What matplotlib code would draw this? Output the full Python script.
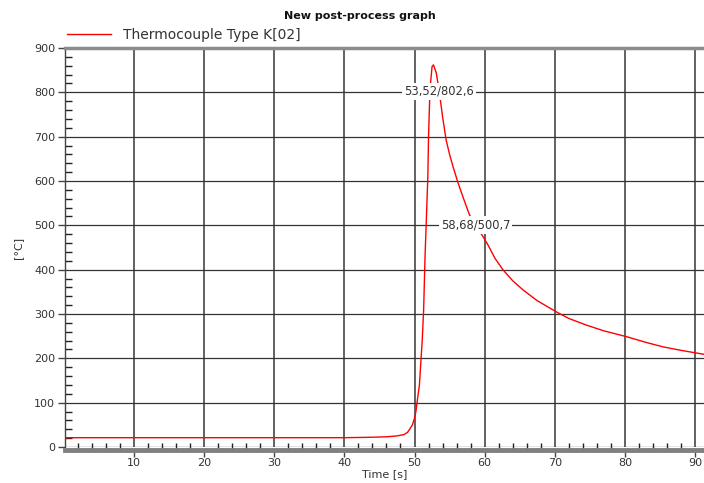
import matplotlib.pyplot as plt
from matplotlib.ticker import MultipleLocator

# thermocouple reading
time_s = [0.16, 10, 20, 30, 40, 44, 45, 46, 47.5, 48.5, 49.0, 49.3, 49.7,
          50.0, 50.2, 50.4, 50.7, 51.1, 51.3, 51.5, 51.7, 51.9, 52.0, 52.2,
          52.5, 52.7, 53.1, 53.52, 54.0, 54.5, 55.0, 55.5, 56.2, 57.0, 57.8,
          58.68, 59.75, 60.5, 61.5, 62.6, 64.0, 65.5, 67.5, 70.2, 72.0,
          74.5, 77.0, 80.2, 83.0, 85.4, 88.0, 91.3]
temp_c = [21, 21, 21, 21, 21, 22, 22.5, 23, 25, 28, 33, 40, 50,
          65, 80, 105, 140, 241, 309, 429, 519, 609, 700, 806,
          858, 862, 844, 802.6, 745, 693, 660, 632, 596, 560, 525,
          500.7, 475, 455, 425, 400, 375, 354, 330, 305, 290,
          275, 262, 249, 236, 226, 218, 209]

marks = [(53.52, 802.6), (58.68, 500.7)]
series_name = "Thermocouple Type K[02]"

fig = plt.figure(figsize=(7.04, 4.83), dpi=100)
ax = fig.add_axes([65 / 704, 1 - 447 / 483, 639 / 704, 399 / 483])

ax.plot(time_s, temp_c, color="#ff0000", lw=1.0, label=series_name, zorder=3)

for mx, my in marks:
    lbl = f"{mx:.2f}/{my:.1f}".replace(".", ",")
    ax.text(mx, my, lbl, ha="center", va="center", fontsize=8.3, color="#333333",
            bbox=dict(facecolor="white", edgecolor="none", pad=1.5), zorder=4)

ax.set_xlim(0.16, 91.28)
ax.set_ylim(0, 900)
ax.xaxis.set_major_locator(MultipleLocator(10))
ax.xaxis.set_minor_locator(MultipleLocator(2))
ax.yaxis.set_major_locator(MultipleLocator(100))
ax.yaxis.set_minor_locator(MultipleLocator(20))

ax.grid(which="major", axis="x", color="#555555", lw=1.3)
ax.grid(which="major", axis="y", color="#333333", lw=0.9)
ax.set_axisbelow(True)

ax.tick_params(which="major", direction="out", length=5, width=1,
               color="#444444", labelsize=8, labelcolor="#333333", pad=2)
ax.tick_params(which="minor", direction="in", length=5, width=1, color="#222222")
ax.tick_params(axis="x", which="major", pad=1)
ax.tick_params(axis="x", which="minor", top=False)
ax.tick_params(axis="y", which="minor", right=False)

ax.spines["right"].set_visible(False)
ax.spines["left"].set_color("#444444")
ax.spines["left"].set_linewidth(1)
ax.spines["top"].set_color("#8c8c8c")
ax.spines["top"].set_linewidth(2.5)
ax.spines["bottom"].set_color("#808080")
ax.spines["bottom"].set_linewidth(3.5)
ax.spines["bottom"].set_position(("outward", 2))

ax.set_xlabel("Time [s]", fontsize=8, color="#333333", labelpad=1)
ax.set_ylabel("[°C]", fontsize=8, color="#333333", labelpad=8)

ax.legend(loc="center left", bbox_to_anchor=(2 / 639, 1 + 13 / 399),
          frameon=False, fontsize=10, borderpad=0, borderaxespad=0,
          handlelength=3.2, handletextpad=0.8, labelcolor="#333333")

fig.text(360 / 704, 1 - 16 / 483, "New post-process graph", ha="center",
         va="center", fontsize=8, fontweight="bold", color="#111111")

plt.savefig("out.png", dpi=100)
